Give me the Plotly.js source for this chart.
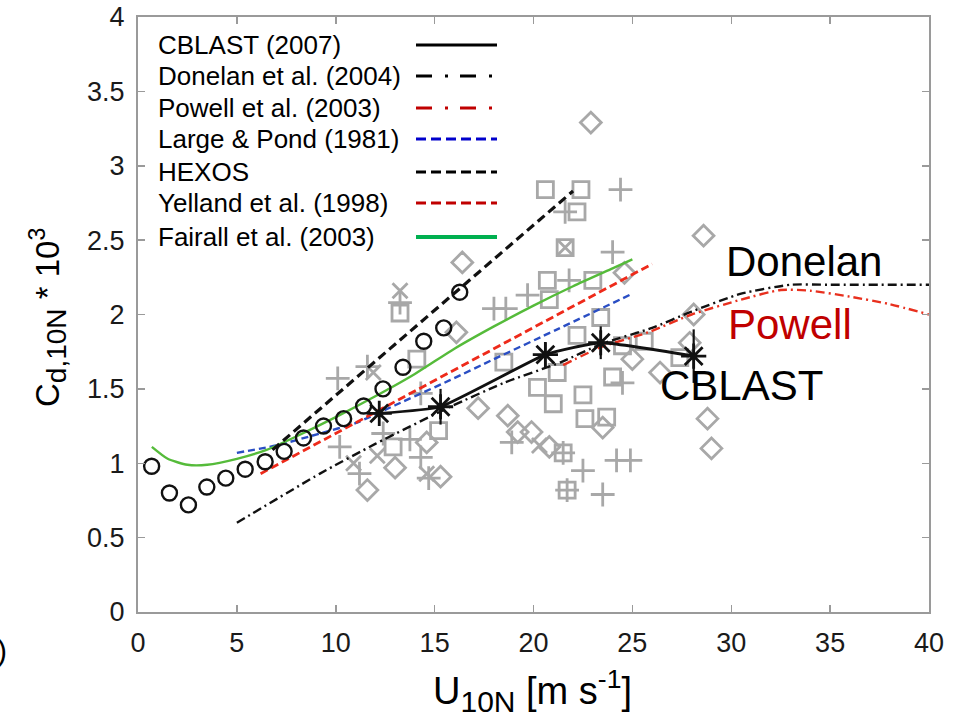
<!DOCTYPE html>
<html>
<head>
<meta charset="utf-8">
<script src="https://cdn.plot.ly/plotly-3.0.1.min.js"></script>
<style>
  html, body { margin: 0; padding: 0; background: #fff; }
  #chart { width: 955px; height: 714px; }
</style>
</head>
<body>
<div id="chart"></div>
<script>
// ---------------- data ----------------
// HEXOS data points (open circles)
const circleU  = [0.69, 1.59, 2.55, 3.48, 4.44, 5.42, 6.43, 7.39, 8.37, 9.38, 10.4, 11.41, 12.39, 13.4, 14.45, 15.46, 16.27];
const circleCd = [0.98, 0.80, 0.72, 0.84, 0.90, 0.96, 1.01, 1.08, 1.17, 1.25, 1.30, 1.385, 1.50, 1.645, 1.82, 1.91, 2.15];

// HEXOS fit (black dashed)
const hexosU  = [6.8, 22.0];
const hexosCd = [1.09, 2.83];

// Donelan et al. (2004) (black dash-dot)
const donelanU  = [5.0, 9.2, 12.0, 15.8, 18.5, 21.4, 23.4, 26.0, 28.0, 30.5, 33.0, 35.0, 40.0];
const donelanCd = [0.60, 0.93, 1.13, 1.38, 1.54, 1.68, 1.80, 1.91, 2.02, 2.14, 2.20, 2.20, 2.20];

// Powell et al. (2003) (red dash-dot)
const powellU  = [21.5, 23.4, 25.8, 28.0, 30.5, 32.5, 34.0, 36.0, 38.0, 40.0];
const powellCd = [1.66, 1.78, 1.88, 2.00, 2.10, 2.165, 2.16, 2.12, 2.07, 2.00];

// Large & Pond (1981) (blue dashed)
const lpU  = [5.0, 7.0, 9.2, 11.0, 13.0, 15.8, 18.0, 21.2, 25.0];
const lpCd = [1.07, 1.12, 1.20, 1.27, 1.39, 1.56, 1.70, 1.90, 2.14];

// Yelland et al. (1998) (red dashed)
const yellandU  = [6.2, 26.0];
const yellandCd = [0.93, 2.34];

// Fairall et al. (2003) (green solid)
const fairallU  = [0.7, 1.5, 2.5, 3.5, 5.0, 6.5, 8.0, 10.0, 12.0, 14.0, 16.0, 18.0, 20.0, 22.0, 24.0, 25.0];
const fairallCd = [1.11, 1.03, 0.99, 0.99, 1.03, 1.09, 1.18, 1.31, 1.45, 1.60, 1.77, 1.92, 2.06, 2.19, 2.31, 2.37];

// CBLAST (2007) (black solid with asterisks)
const cblastU   = [12.2, 15.3, 20.6, 23.4, 28.1];
const cblastCd  = [1.335, 1.38, 1.73, 1.81, 1.72];
const cblastErr = [0.0, 0.12, 0.08, 0.11, 0.18];

// Gray background observations
const sqU  = [20.6, 22.4, 22.2, 21.6, 20.7, 23.0, 20.8, 13.25, 18.5, 20.2, 21.0, 21.2, 22.2, 23.4, 22.5, 23.7, 24.0, 24.5, 25.6, 27.4, 21.5, 21.7, 15.2, 12.9, 14.1, 22.6];
const sqCd = [2.84, 2.84, 2.69, 2.45, 2.23, 2.23, 2.10, 2.01, 1.68, 1.51, 1.40, 1.61, 1.86, 1.98, 1.46, 1.31, 1.58, 1.79, 1.82, 1.71, 1.07, 0.82, 1.22, 1.11, 1.70, 1.30];

const diU  = [22.9, 16.4, 24.6, 28.6, 28.1, 27.9, 26.4, 28.8, 29.0, 17.2, 18.7, 19.2, 19.9, 20.8, 23.5, 11.6, 13.0, 15.3, 16.1, 25.0, 14.6];
const diCd = [3.29, 2.35, 2.28, 2.53, 2.00, 1.81, 1.61, 1.30, 1.10, 1.37, 1.32, 1.21, 1.21, 1.11, 1.24, 0.82, 0.97, 0.91, 1.88, 1.70, 1.14];

const plU  = [24.4, 21.6, 24.0, 21.8, 19.7, 18.0, 18.6, 13.25, 10.1, 11.6, 24.5, 10.2, 11.2, 13.75, 14.3, 18.9, 22.5, 23.5, 24.2, 24.9, 21.5, 21.7, 14.3, 12.4, 14.7];
const plCd = [2.84, 2.69, 2.42, 2.23, 2.13, 2.04, 2.04, 2.08, 1.57, 1.65, 1.54, 1.11, 0.93, 1.16, 1.04, 1.14, 0.95, 0.79, 1.02, 1.02, 1.07, 0.82, 1.47, 1.20, 0.90];

const xU  = [13.25, 21.6, 11.9, 10.9, 14.6, 20.3, 12.1];
const xCd = [2.16, 2.45, 1.61, 1.00, 0.93, 1.12, 1.05];

// Legend entries
const legendNames = ["CBLAST (2007)", "Donelan et al. (2004)", "Powell et al. (2003)", "Large & Pond (1981)", "HEXOS", "Yelland et al. (1998)", "Fairall et al. (2003)"];

// ---------------- styling ----------------
const FONT = "Liberation Sans, Arial, Helvetica, sans-serif";
const GRAY = "#a8a8a8";
const L = 138, R = 929, T = 17, B = 612; // plot box pixels
const px2px = p => (p - L) / (R - L);
const py2py = p => (B - p) / (B - T);

function grayTrace(x, y, symbol, size) {
  return { x: x, y: y, type: "scatter", mode: "markers", hoverinfo: "skip", showlegend: false,
    marker: { symbol: symbol, size: size, color: GRAY, line: { width: 2.8, color: GRAY } } };
}
function lineTrace(x, y, color, width, dash) {
  return { x: x, y: y, type: "scatter", mode: "lines", showlegend: false,
    line: { color: color, width: width, dash: dash, shape: "spline", smoothing: 0.6 } };
}

const traces = [
  grayTrace(sqU, sqCd, "square-open", 16),
  grayTrace(diU, diCd, "diamond-open", 16),
  grayTrace(plU, plCd, "cross-thin-open", 17),
  grayTrace(xU, xCd, "x-thin-open", 15),
  lineTrace(donelanU, donelanCd, "#111111", 2.4, "9px,4px,2px,4px"),
  lineTrace(powellU, powellCd, "#e8301e", 2.4, "9px,4px,2px,4px"),
  lineTrace(lpU, lpCd, "#2a4ec4", 2.4, "7px,4px"),
  lineTrace(yellandU, yellandCd, "#ee2a1a", 2.8, "8px,4px"),
  lineTrace(fairallU, fairallCd, "#55bb3a", 2.4, "solid"),
  lineTrace(hexosU, hexosCd, "#111111", 3.2, "9px,5px"),
  { x: circleU, y: circleCd, type: "scatter", mode: "markers", showlegend: false,
    marker: { symbol: "circle-open", size: 15, color: "#111", line: { width: 2.4, color: "#111" } } },
  { x: cblastU, y: cblastCd, type: "scatter", mode: "lines+markers", showlegend: false,
    line: { color: "#111", width: 2.8, shape: "spline", smoothing: 0.4 },
    marker: { symbol: "asterisk-open", size: 21, color: "#111", line: { width: 2.8, color: "#111" } },
    error_y: { type: "data", array: cblastErr, visible: true, color: "#111", thickness: 2.2, width: 0 } }
];

// Manual legend (text left, line sample right)
const rowsY = [45, 76, 108, 139, 172, 203, 237];
const legStyles = [
  { color: "#000", width: 3, dash: "solid" },
  { color: "#000", width: 3, dash: "16px,13px,3px,12px" },
  { color: "#c00000", width: 3, dash: "16px,13px,3px,12px" },
  { color: "#0000cc", width: 3, dash: "10px,5px" },
  { color: "#000", width: 3, dash: "10px,5px" },
  { color: "#c00000", width: 3, dash: "10px,5px" },
  { color: "#00b050", width: 4, dash: "solid" }
];
const shapes = [];
const annotations = [];
legendNames.forEach((name, i) => {
  annotations.push({ xref: "paper", yref: "paper", x: px2px(156), y: py2py(rowsY[i]), xanchor: "left", yanchor: "middle",
    text: name, showarrow: false, font: { family: FONT, size: 26, color: "#000" } });
  shapes.push({ type: "line", xref: "paper", yref: "paper", x0: px2px(416), x1: px2px(497),
    y0: py2py(rowsY[i]), y1: py2py(rowsY[i]), line: legStyles[i] });
});

// Curve labels
annotations.push({ xref: "paper", yref: "paper", x: px2px(724), y: py2py(261), xanchor: "left", yanchor: "middle",
  text: "Donelan", showarrow: false, font: { family: FONT, size: 42, color: "#000" } });
annotations.push({ xref: "paper", yref: "paper", x: px2px(726), y: py2py(325), xanchor: "left", yanchor: "middle",
  text: "Powell", showarrow: false, font: { family: FONT, size: 42, color: "#c00000" } });
annotations.push({ xref: "paper", yref: "paper", x: px2px(658), y: py2py(385), xanchor: "left", yanchor: "middle",
  text: "CBLAST", showarrow: false, font: { family: FONT, size: 42, color: "#000" } });

// Axis titles
annotations.push({ xref: "paper", yref: "paper", x: px2px(532), y: py2py(662), xanchor: "center", yanchor: "top",
  text: "U<sub><span style=\"font-size:30px\">10N</span></sub> [m s<sup>-1</sup>]", showarrow: false,
  font: { family: FONT, size: 38, color: "#000" } });
annotations.push({ xref: "paper", yref: "paper", x: px2px(48), y: py2py(318), xanchor: "center", yanchor: "middle",
  textangle: -90, text: "C<sub><span style=\"font-size:28px\">d,10N</span></sub> * 10<sup>3</sup>", showarrow: false,
  font: { family: FONT, size: 33, color: "#000" } });
// clipped panel fragment at the far left
annotations.push({ xref: "paper", yref: "paper", x: px2px(9), y: py2py(650), xanchor: "right", yanchor: "middle",
  text: ")", showarrow: false, font: { family: FONT, size: 30, color: "#000" } });

const axisCommon = {
  showgrid: false, zeroline: false, showline: true, linecolor: "#9a9a9a", linewidth: 2,
  ticks: "inside", ticklen: 7, tickwidth: 1.5, tickcolor: "#9a9a9a", mirror: "ticks",
  tickfont: { family: FONT, size: 27, color: "#1a1a1a" }
};

const layout = {
  width: 955, height: 714,
  margin: { l: L, r: 955 - R, t: T, b: 714 - B, pad: 0 },
  paper_bgcolor: "#fff", plot_bgcolor: "#fff",
  showlegend: false,
  xaxis: Object.assign({}, axisCommon, { range: [0, 40], tick0: 0, dtick: 5, ticklabelstandoff: 6 }),
  yaxis: Object.assign({}, axisCommon, { range: [0, 4], tick0: 0, dtick: 0.5, ticklabelstandoff: 6 }),
  shapes: shapes,
  annotations: annotations
};

Plotly.newPlot("chart", traces, layout, { displayModeBar: false, staticPlot: true });
</script>
</body>
</html>
